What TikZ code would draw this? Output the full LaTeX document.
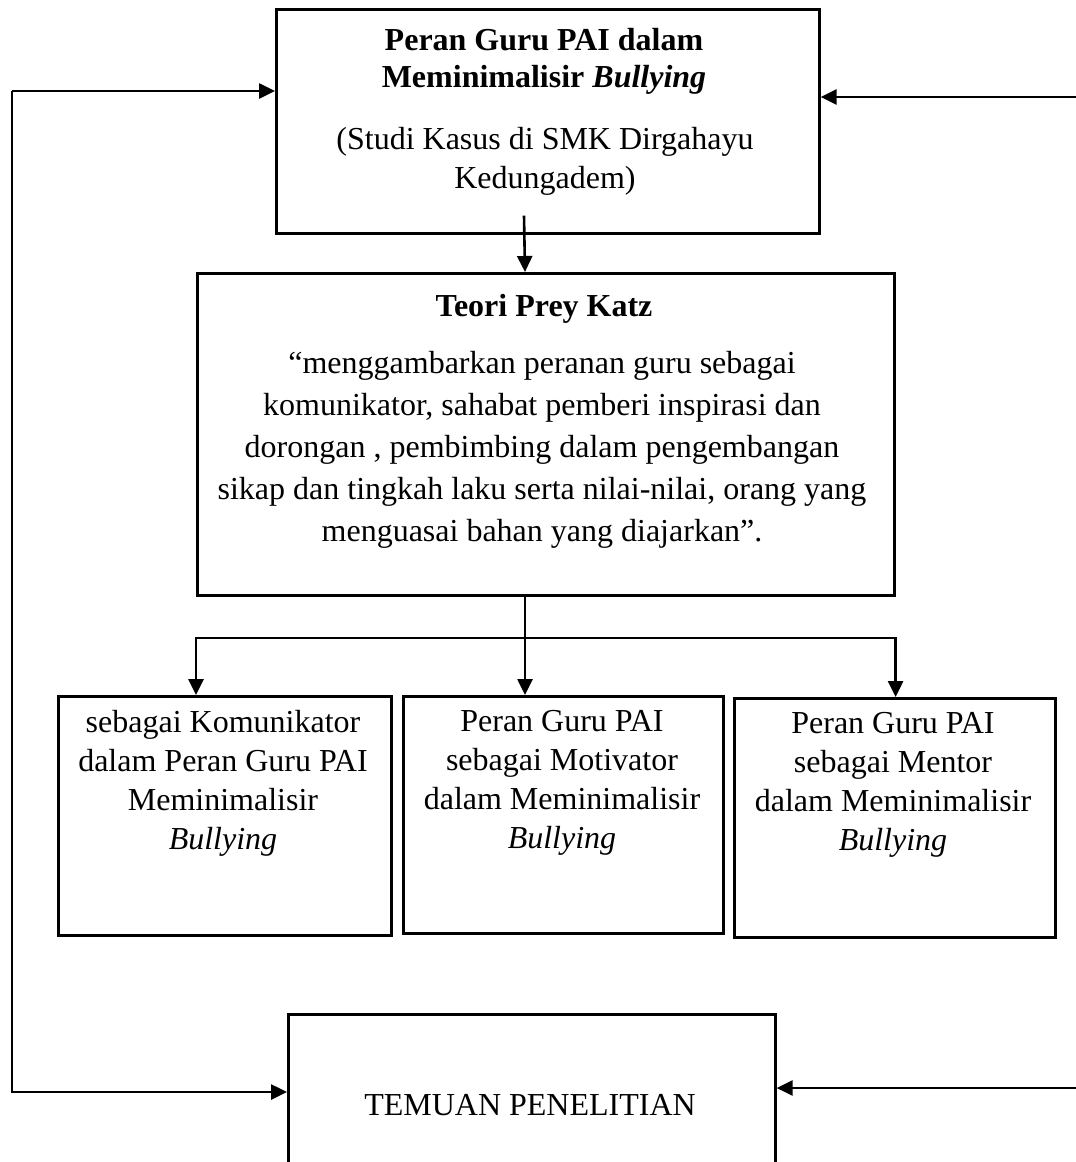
\documentclass[tikz,border=0pt]{standalone}
\usepackage{fontspec}
\setmainfont{Liberation Serif}
\usetikzlibrary{arrows.meta}
\tikzset{
  box/.style={draw, line width=2.6pt, anchor=north west, inner sep=0pt},
  arr/.style={line width=2.6pt, -{Triangle[length=16pt,width=15pt]}},
  txt/.style={align=center, anchor=north, inner sep=0pt, font=\fontsize{32}{42}\selectfont}
}
\begin{document}
\begin{tikzpicture}[x=1pt,y=-1pt]
   \useasboundingbox (0,0) rectangle (1076,1162);
   % boxes
   \node[box, minimum width=543pt, minimum height=224pt] (top) at (275,8) {};
   \node[box, minimum width=697pt, minimum height=322pt] (teori) at (196,272) {};
   \node[box, minimum width=333pt, minimum height=239pt] (komu) at (57,695) {};
   \node[box, minimum width=320pt, minimum height=237pt] (moti) at (402,695) {};
   \node[box, minimum width=321pt, minimum height=239pt] (ment) at (733,697) {};
   \node[box, minimum width=487pt, minimum height=220pt] (temuan) at (287,1013) {};
   % texts
   \node[txt, font=\fontsize{32}{37}\selectfont\bfseries] (toptitle) at (544,28) {Peran Guru PAI dalam\\
      Meminimalisir \textit{Bullying}};
   \node[txt, font=\fontsize{32}{39}\selectfont] (topsub) at (545,127) {(Studi Kasus di SMK Dirgahayu\\Kedungadem)};
   \node[txt, anchor=base, font=\fontsize{32}{42}\selectfont\bfseries] (teorititle) at (544,316) {Teori Prey Katz};
   \node[txt] (teoritext) at (542,351) {“menggambarkan peranan guru sebagai\\
      komunikator, sahabat pemberi inspirasi dan\\
      dorongan , pembimbing dalam pengembangan\\
      sikap dan tingkah laku serta nilai-nilai, orang yang\\
      menguasai bahan yang diajarkan”.};
   \node[txt, font=\fontsize{32}{39}\selectfont] (komutext) at (223,710) {sebagai Komunikator\\dalam Peran Guru PAI\\Meminimalisir\\\textit{Bullying}};
   \node[txt, font=\fontsize{32}{39}\selectfont] (mototext) at (562,710) {Peran Guru PAI\\sebagai Motivator\\dalam Meminimalisir\\\textit{Bullying}};
   \node[txt, font=\fontsize{32}{39}\selectfont] (menttext) at (893,712) {Peran Guru PAI\\sebagai Mentor\\dalam Meminimalisir\\\textit{Bullying}};
   \node[txt, anchor=base] (temuantext) at (530,1115) {TEMUAN PENELITIAN};
   % connectors
   \coordinate (fork) at (525,638);
   \coordinate (lt) at (12,91);
   \coordinate (lb) at (12,1092);
   \coordinate (rt) at (1080,97);
   \coordinate (rb) at (1080,1088);
   \draw[arr] ([xshift=249pt,yshift=19pt]top.south west) -- ([xshift=329pt]teori.north west);
   \draw[line width=2.6pt] ([xshift=329pt]teori.south west) -- (fork);
   \draw[arr] (fork) -| (komu.north -| teori.west);
   \draw[arr] (fork) -- (fork |- moti.north);
   \draw[arr] (fork) -| (ment.north -| teori.east);
   \draw[arr] (lt) -- (lt -| top.west);
   \draw[arr] (lt) -- (lb) -- (lb -| temuan.west);
   \draw[arr] (rt) -- (rt -| top.east);
   \draw[arr] (rb) -- (rb -| temuan.east);
\end{tikzpicture}
\end{document}
